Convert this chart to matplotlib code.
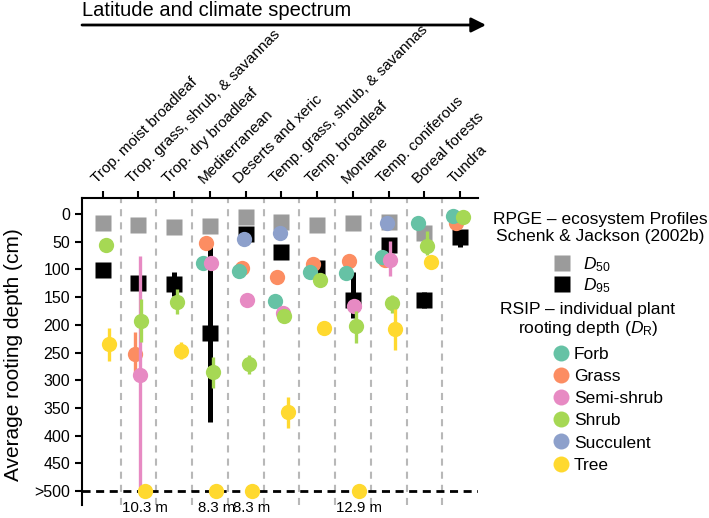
import numpy as np
import matplotlib.pyplot as plt
import matplotlib.transforms as mtransforms
from matplotlib.lines import Line2D

plt.rcParams['font.family'] = ['Liberation Sans', 'DejaVu Sans']
plt.rcParams['mathtext.fontset'] = 'custom'
plt.rcParams['mathtext.rm'] = 'Liberation Sans'
plt.rcParams['mathtext.it'] = 'Liberation Sans:italic'

# ecosystems, ordered along the latitude / climate spectrum
categories = ["Trop. moist broadleaf", "Trop. grass, shrub, & savannas", "Trop. dry broadleaf",
              "Mediterranean", "Deserts and xeric", "Temp. grass, shrub, & savannas",
              "Temp. broadleaf", "Montane", "Temp. coniferous", "Boreal forests", "Tundra"]
yticks = [0, 50, 100, 150, 200, 250, 300, 350, 400, 450, 500]
ytick_labels = ["0", "50", "100", "150", "200", "250", "300", "350", "400", "450", ">500"]

# RPGE ecosystem profiles (Schenk & Jackson 2002b)
d50_cat = [0, 1, 2, 3, 4, 5, 6, 7, 8, 9]
d50_val = [17, 20, 24, 22, 5, 14, 20, 17, 14, 34]
d95_cat = [0, 1, 2, 3, 4, 5, 6, 7, 8, 9, 10]
d95_val = [101, 125, 127, 214, 36, 68, 97, 155, 55, 155, 42]
d95_lo = [None, None, 105, 56, None, None, None, 104, None, 140, 31]
d95_hi = [None, None, 148, 375, None, None, None, 188, None, 170, 60]

# RSIP individual plant rooting depth, by growth form
forb_cat = [3, 4, 5, 6, 7, 8, 9, 10]
forb_val = [89, 102, 156, 105, 106, 78, 16, 4]

grass_cat = [1, 3, 4, 5, 6, 7, 8, 10]
grass_val = [253, 52, 97, 114, 91, 85, 82, 16]
grass_lo = [212, None, None, None, None, None, None, None]
grass_hi = [293, None, None, None, None, None, None, None]

semi_cat = [1, 3, 4, 5, 7, 8]
semi_val = [291, 89, 155, 179, 166, 82]
semi_lo = [75, None, None, None, None, 49]
semi_hi = [500, None, None, None, None, 112]

shrub_cat = [0, 1, 2, 3, 4, 5, 6, 7, 8, 9, 10]
shrub_val = [55, 193, 158, 285, 271, 184, 119, 202, 161, 58, 6]
shrub_lo = [None, 154, 136, 258, 254, None, None, 175, 146, 31, None]
shrub_hi = [None, 230, 180, 313, 288, None, None, 233, 178, 73, None]

succ_cat = [4, 5, 8]
succ_val = [45, 34, 16]

tree_cat = [0, 1, 2, 3, 4, 5, 6, 7, 8, 9]
tree_val = [235, 500, 247, 500, 500, 358, 206, 500, 208, 87]
tree_lo = [205, None, 230, None, None, 330, None, None, 172, None]
tree_hi = [265, None, 262, None, None, 386, None, None, 245, None]

# maximum depths of the trees beyond the axis
deep_cat = [1, 3, 4, 7]
deep_label = ["10.3 m", "8.3 m", "8.3 m", "12.9 m"]

colors = {"Forb": "#66c2a5", "Grass": "#fc8d62", "Semi-shrub": "#e78ac3",
          "Shrub": "#a6d854", "Succulent": "#8da0cb", "Tree": "#ffd92f"}
gray = "#9b9b9b"

fig = plt.figure(figsize=(7.09, 5.18), dpi=100)
ax = fig.add_axes([82 / 709, 1 - 505 / 518, 396 / 709, 307 / 518])

for i in range(len(categories) - 1):
    ax.axvline(i + 0.5, color="#b8b8b8", lw=1.5, ls=(0, (3.4, 2.9)), zorder=0)
ax.axhline(500, color="black", lw=2, ls=(0, (2.9, 2.0)), zorder=1)


def draw(cat, val, lo, hi, color, marker, off, elw, z):
    x = np.array(cat, dtype=float) + off
    if lo is not None:
        for xi, l, h in zip(x, lo, hi):
            if l is not None:
                ax.vlines(xi, l, h, color=color, lw=elw, zorder=z)
    ax.plot(x, val, marker, ls="none", ms=11, color=color, mec="none", zorder=z + 0.5)


draw(d50_cat, d50_val, None, None, gray, "s", 0.0, 3.6, 2)
draw(d95_cat, d95_val, d95_lo, d95_hi, "black", "s", 0.0, 3.6, 2)
draw(grass_cat, grass_val, grass_lo, grass_hi, colors["Grass"], "o", -0.11, 2.4, 3)
draw(forb_cat, forb_val, None, None, colors["Forb"], "o", -0.19, 2.4, 4)
draw(semi_cat, semi_val, semi_lo, semi_hi, colors["Semi-shrub"], "o", 0.03, 2.4, 5)
draw(shrub_cat, shrub_val, shrub_lo, shrub_hi, colors["Shrub"], "o", 0.08, 2.4, 6)
draw(succ_cat, succ_val, None, None, colors["Succulent"], "o", -0.04, 2.4, 7)
draw(tree_cat, tree_val, tree_lo, tree_hi, colors["Tree"], "o", 0.18, 2.4, 8)

for c, lab in zip(deep_cat, deep_label):
    ax.annotate(lab, (c + 0.18, 500), xytext=(0, -7), textcoords="offset points",
                ha="center", va="top", fontsize=10.8, annotation_clip=False)

ax.set_xlim(-0.58, 10.5)
ax.set_ylim(525, -29)
ax.xaxis.tick_top()
ax.set_xticks(range(len(categories)))
ax.set_xticklabels(categories, rotation=45, ha="left", va="bottom", rotation_mode="anchor")
ax.set_yticks(yticks)
ax.set_yticklabels(ytick_labels)
for s in ["bottom", "right"]:
    ax.spines[s].set_visible(False)
for s in ["top", "left"]:
    ax.spines[s].set_linewidth(1.5)
ax.tick_params(axis="both", width=1.5, length=5)
ax.tick_params(axis="y", labelsize=11.5)
ax.tick_params(axis="x", labelsize=11)
shift = mtransforms.ScaledTranslation(-3 / 72, 0, fig.dpi_scale_trans)
for lab in ax.get_xticklabels():
    lab.set_transform(lab.get_transform() + shift)
ax.set_ylabel("Average rooting depth (cm)", fontsize=15)
ax.yaxis.set_label_coords(-0.149, 0.49)

# climate spectrum arrow
fig.text(82 / 709, 1 - 10 / 518, "Latitude and climate spectrum", fontsize=14.5, va="center", ha="left")
ax.annotate("", xy=(486 / 709, 1 - 25 / 518), xytext=(82 / 709, 1 - 25 / 518),
            xycoords="figure fraction", textcoords="figure fraction",
            arrowprops=dict(arrowstyle="-|>", lw=2, color="black", mutation_scale=22, shrinkA=0, shrinkB=0))

# legends
fig.text(600 / 709, 1 - 228 / 518, "RPGE \u2013 ecosystem Profiles\nSchenk & Jackson (2002b)",
         ha="center", va="center", fontsize=12.5, linespacing=1.15)
h1 = [Line2D([], [], marker="s", ls="none", ms=11, color=gray, mec="none"),
      Line2D([], [], marker="s", ls="none", ms=11, color="black", mec="none")]
fig.legend(h1, ["$D_{50}$", "$D_{95}$"], loc="upper left", bbox_to_anchor=(553 / 709, 1 - 255 / 518),
           frameon=False, fontsize=12.5, handlelength=1.0, handletextpad=0.72,
           labelspacing=0.15, borderpad=0, borderaxespad=0)

fig.text(588 / 709, 1 - 320 / 518, "RSIP \u2013 individual plant\nrooting depth ($D_\\mathrm{R}$)",
         ha="center", va="center", fontsize=12.5, linespacing=1.15)
h2 = [Line2D([], [], marker="o", ls="none", ms=11.5, color=colors[k], mec="none") for k in colors]
fig.legend(h2, list(colors), loc="upper left", bbox_to_anchor=(552 / 709, 1 - 347 / 518),
           frameon=False, fontsize=12.5, handlelength=1.0, handletextpad=0.26,
           labelspacing=0.4, borderpad=0, borderaxespad=0)

fig.savefig("out.png", dpi=100)
